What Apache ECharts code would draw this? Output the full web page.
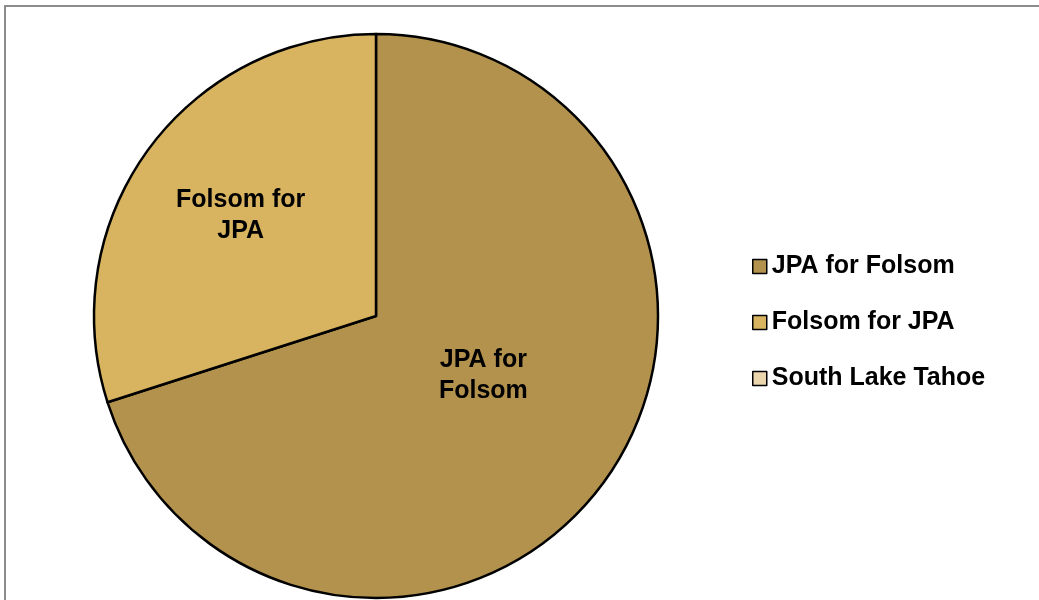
<!DOCTYPE html>
<html><head><meta charset="utf-8">
<script src="https://cdn.jsdelivr.net/npm/echarts@6/dist/echarts.min.js"></script>
<style>html,body{margin:0;padding:0;background:#fff}#c{width:1039px;height:600px}</style>
</head><body><div id="c"></div>
<script>
const categories = ['JPA for Folsom', 'Folsom for JPA', 'South Lake Tahoe'];
const values = [70.05, 29.95, 0];
const labels = ['JPA for\nFolsom', 'Folsom for\nJPA', ''];
const colors = ['#B3924D', '#D9B460', '#EAD5AC'];
const labelOffsets = [[-9, -25], [-19, -16], [0, 0]];

const chart = echarts.init(document.getElementById('c'));
const font = '"Liberation Sans", Arial, sans-serif';
chart.setOption({
  animation: false,
  color: colors,
  graphic: [{
    type: 'rect', shape: {x: 5, y: 6, width: 1200, height: 800},
    style: {fill: 'none', stroke: '#8c8c8c', lineWidth: 2}, silent: true, z: -1
  }],
  legend: {
    orient: 'vertical', left: 752, top: 254, padding: 0,
    itemWidth: 14, itemHeight: 14, itemGap: 31, icon: 'rect',
    itemStyle: {borderColor: '#000', borderWidth: 1.5},
    textStyle: {fontFamily: font, fontWeight: 'bold', fontSize: 25, color: '#000', lineHeight: 24},
    data: categories
  },
  series: [{
    type: 'pie', center: [376, 316], radius: 282, startAngle: 90, clockwise: true,
    stillShowZeroSum: true,
    itemStyle: {borderColor: '#000', borderWidth: 2.5},
    label: {position: 'inside', fontFamily: font, fontWeight: 'bold', fontSize: 25, color: '#000', lineHeight: 31, align: 'center'},
    labelLine: {show: false},
    emphasis: {disabled: true},
    data: categories.map((n, i) => ({
      name: n, value: values[i],
      label: {show: values[i] > 0, formatter: labels[i], offset: labelOffsets[i]},
      itemStyle: values[i] > 0 ? {} : {borderWidth: 0}
    }))
  }]
});
</script></body></html>
